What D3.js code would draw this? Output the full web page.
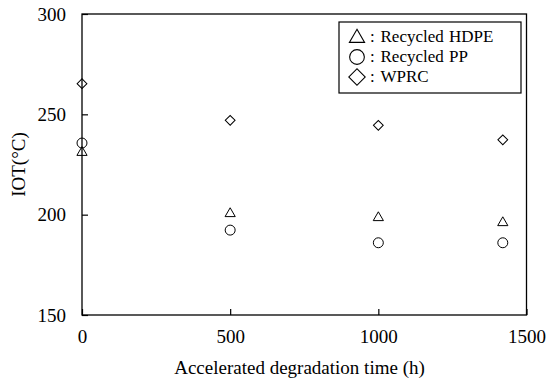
<!DOCTYPE html>
<html><head><meta charset="utf-8">
<script src="https://cdn.jsdelivr.net/npm/d3@7"></script>
</head><body style="margin:0">
<svg id="c" width="550" height="384" font-family="Liberation Serif"></svg>
<script>
const times = [0, 500, 1000, 1420];
const hdpe = [231, 200.5, 198.5, 196];
const pp = [235.7, 192.3, 186, 186];
const wprc = [265.3, 247, 244.5, 237.3];
const xTicks = [0, 500, 1000, 1500];
const yTicks = [150, 200, 250, 300];
const seriesNames = ["Recycled HDPE", "Recycled PP", "WPRC"];

const FONT = "Liberation Serif";
const svg = d3.select("#c");
const L = 82, R = 526.5, T = 14, B = 315;
const x = d3.scaleLinear().domain([0, 1500]).range([L, R]);
const y = d3.scaleLinear().domain([150, 300]).range([B, T]);

svg.append("rect").attr("x", L).attr("y", T).attr("width", R - L).attr("height", B - T)
  .attr("fill", "none").attr("stroke", "#000").attr("stroke-width", 1.3);

const yAxis = svg.append("g").attr("transform", `translate(${L},0)`)
  .call(d3.axisLeft(y).tickValues(yTicks).tickFormat(d3.format("d")).tickSize(-6).tickPadding(16));
const xAxis = svg.append("g").attr("transform", `translate(0,${B})`)
  .call(d3.axisBottom(x).tickValues(xTicks).tickFormat(d3.format("d")).tickSize(-6).tickPadding(14.5));
[yAxis, xAxis].forEach(g => {
  g.attr("font-family", FONT).attr("font-size", 19);
  g.select(".domain").remove();
  g.selectAll("line").attr("stroke", "#000").attr("stroke-width", 1.2);
  g.selectAll("text").style("font-family", FONT).attr("font-size", 19).attr("fill", "#000");
});

svg.append("text").attr("x", 299.5).attr("y", 374).attr("text-anchor", "middle")
  .style("font-family", FONT).attr("font-size", 19).text("Accelerated degradation time (h)");
svg.append("text").attr("transform", `translate(25,${(T + B) / 2}) rotate(-90)`)
  .attr("text-anchor", "middle").style("font-family", FONT).attr("font-size", 19).text("IOT(°C)");

const symTri = d3.symbol().type(d3.symbolTriangle);
const symCirc = d3.symbol().type(d3.symbolCircle);
const symDia = d3.symbol().type(d3.symbolSquare);

function drawSeries(vals, kind) {
  const g = svg.append("g");
  vals.forEach((v, i) => {
    const cx = x(times[i]), cy = y(v);
    let p;
    if (kind === "tri") p = g.append("path").attr("d", symTri.size(45)()).attr("transform", `translate(${cx},${cy})`);
    else if (kind === "circ") p = g.append("path").attr("d", symCirc.size(78)()).attr("transform", `translate(${cx},${cy})`);
    else p = g.append("path").attr("d", symDia.size(48)()).attr("transform", `translate(${cx},${cy}) rotate(45)`);
    p.attr("fill", "none").attr("stroke", "#000").attr("stroke-width", 1);
  });
}
drawSeries(wprc, "dia");
drawSeries(pp, "circ");
drawSeries(hdpe, "tri");

// legend
const lg = svg.append("g");
lg.append("rect").attr("x", 339).attr("y", 22).attr("width", 182).attr("height", 71)
  .attr("fill", "#fff").attr("stroke", "#000").attr("stroke-width", 1.2);
const kinds = ["tri", "circ", "dia"];
seriesNames.forEach((n, i) => {
  const cy = 37 + i * 20;
  let p;
  if (kinds[i] === "tri") p = lg.append("path").attr("d", symTri.size(100)()).attr("transform", `translate(357,${cy + 1})`);
  else if (kinds[i] === "circ") p = lg.append("path").attr("d", symCirc.size(170)()).attr("transform", `translate(357,${cy})`);
  else p = lg.append("path").attr("d", symDia.size(135)()).attr("transform", `translate(357,${cy}) rotate(45)`);
  p.attr("fill", "none").attr("stroke", "#000").attr("stroke-width", 1.1);
  lg.append("text").attr("x", 370).attr("y", cy + 5).style("font-family", FONT).attr("font-size", 17).text(":");
  lg.append("text").attr("x", 380.5).attr("y", cy + 5).style("font-family", FONT).attr("font-size", 17)
    .style("word-spacing", "1px").text(n);
});
</script>
</body></html>
